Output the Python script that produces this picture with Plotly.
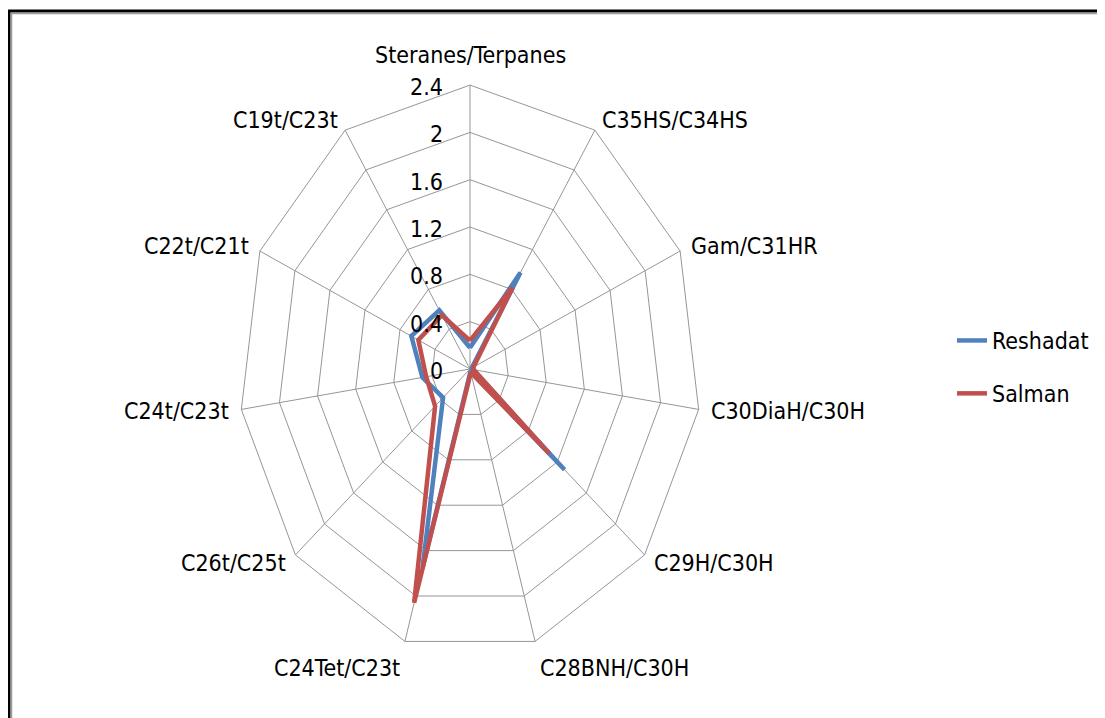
import math
import plotly.graph_objects as go

categories = ["Steranes/Terpanes", "C35HS/C34HS", "Gam/C31HR", "C30DiaH/C30H",
              "C29H/C30H", "C28BNH/C30H", "C24Tet/C23t", "C26t/C25t",
              "C24t/C23t", "C22t/C21t", "C19t/C23t"]
reshadat = [0.18, 0.97, 0.02, 0.02, 1.30, 0.02, 1.75, 0.37, 0.50, 0.67, 0.59]
salman = [0.24, 0.82, 0.04, 0.04, 1.09, 0.03, 2.06, 0.48, 0.46, 0.59, 0.54]
radial_ticks = [0, 0.4, 0.8, 1.2, 1.6, 2, 2.4]
rmax = 2.4

W, H = 1105, 718
OFF = 8  # page body margin
cx, cy = 470 - OFF, 369 - OFF      # centre in figure pixels
sx, sy = 96.25, 118.3              # pixels per unit (Excel stretched the radar)
font = "DejaVu Sans Condensed, Liberation Sans Narrow, Open Sans, sans-serif"
grid_col = "#969696"

n = len(categories)
ang = [math.pi / 2 - 2 * math.pi * k / n for k in range(n)]


def to_xy(vals):
    xs = [v * math.cos(a) for v, a in zip(vals, ang)]
    ys = [v * math.sin(a) for v, a in zip(vals, ang)]
    return xs + xs[:1], ys + ys[:1]


fig = go.Figure()

# grid rings
for t in radial_ticks[1:]:
    gx, gy = to_xy([t] * n)
    fig.add_trace(go.Scatter(x=gx, y=gy, mode="lines", showlegend=False,
                             hoverinfo="skip",
                             line=dict(color=grid_col, width=1)))
# spokes
sp_x, sp_y = [], []
for a in ang:
    sp_x += [0, rmax * math.cos(a), None]
    sp_y += [0, rmax * math.sin(a), None]
fig.add_trace(go.Scatter(x=sp_x, y=sp_y, mode="lines", showlegend=False,
                         hoverinfo="skip", line=dict(color=grid_col, width=1)))

for name, vals, col, grp in [("Reshadat", reshadat, "#4F81BD", "a"),
                             ("Salman", salman, "#C0504D", "b")]:
    x, y = to_xy(vals)
    fig.add_trace(go.Scatter(x=x, y=y, mode="lines", name=name,
                             legendgroup=grp,
                             line=dict(color=col, width=4.5)))

annotations = []
for cat, a in zip(categories, ang):
    c, s = math.cos(a), math.sin(a)
    xa = "left" if c > 0.1 else ("right" if c < -0.1 else "center")
    ya = "top" if s < -0.9 else "middle"
    annotations.append(dict(x=rmax * c, y=rmax * s, text=cat, showarrow=False,
                            xanchor=xa, yanchor=ya,
                            xshift=10 * c, yshift=30 if s > 0.9 else 12 * s))
for t in radial_ticks:
    annotations.append(dict(x=0, y=t, text=f"{t:g}", showarrow=False,
                            xanchor="right", yanchor="middle", xshift=-25,
                            yshift=-2))

fig.update_layout(
    width=W, height=H,
    margin=dict(l=0, r=0, t=0, b=0),
    paper_bgcolor="white", plot_bgcolor="white",
    font=dict(family=font, size=23, color="black"),
    xaxis=dict(range=[-cx / sx, (W - cx) / sx], visible=False, fixedrange=True),
    yaxis=dict(range=[-(H - cy) / sy, cy / sy], visible=False, fixedrange=True),
    annotations=annotations,
    legend=dict(x=944 / W, y=1 - 311 / H, xanchor="left", yanchor="top",
                font=dict(size=23), traceorder="grouped", tracegroupgap=20,
                bgcolor="rgba(0,0,0,0)"),
    shapes=[
        dict(type="rect", xref="paper", yref="paper",
             x0=1 / W, y0=1 - 3 / H, x1=1.1, y1=-0.1,
             line=dict(color="black", width=3)),
        dict(type="rect", xref="paper", yref="paper",
             x0=3.5 / W, y0=1 - 5.5 / H, x1=1.1, y1=-0.1,
             line=dict(color="#9A9A9A", width=1.5)),
    ],
)

fig.write_html("out.html")
